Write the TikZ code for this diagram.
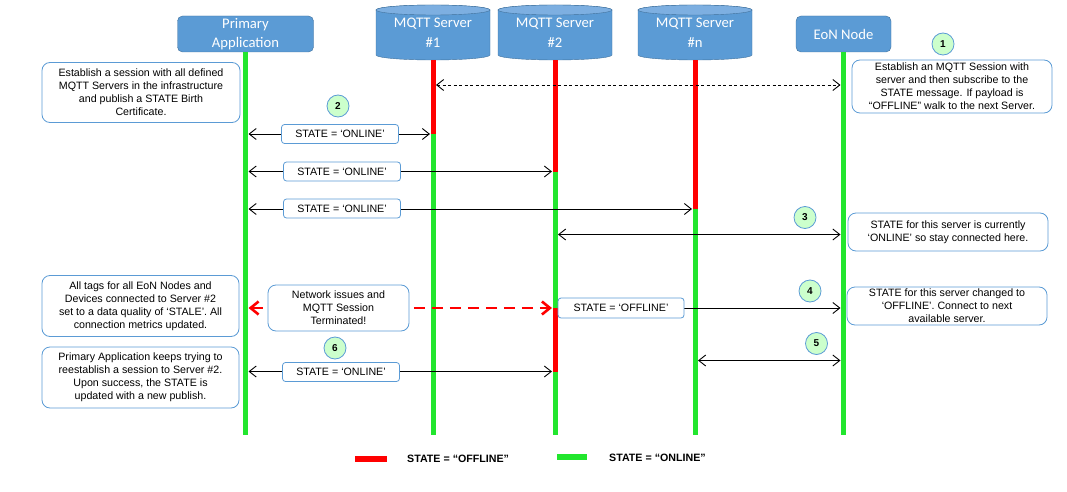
\documentclass[tikz,border=0pt]{standalone}
\usepackage{fontspec}
\setmainfont{Liberation Sans}
\newfontfamily\hdrfont{Carlito}
\usetikzlibrary{arrows.meta}
\usetikzlibrary{positioning, calc}

\definecolor{hdrblue}{RGB}{91,155,213}
\definecolor{hdrline}{RGB}{65,113,156}
\definecolor{srvtop}{RGB}{125,175,225}
\definecolor{noteblue}{RGB}{91,155,213}
\definecolor{stepgreen}{RGB}{204,255,204}
\definecolor{ongreen}{RGB}{34,230,46}
\definecolor{offred}{RGB}{255,0,0}

\begin{document}
\begin{tikzpicture}[
    x=1pt, y=-1pt,
    >={Straight Barb[length=7pt, width=11pt]},
    actor/.style={draw=hdrline, fill=hdrblue, rounded corners=5pt, text=white, align=center, inner sep=0pt, font=\hdrfont\fontsize{14.67}{19.5}\selectfont},
    srv/.style={minimum width=114pt, minimum height=55pt, text=white, align=center, inner sep=0pt, font=\hdrfont\fontsize{14.67}{19.5}\selectfont},
    srv body/.style={fill=hdrblue, draw=hdrline, thin},
    srv top/.style={fill=srvtop, draw=hdrline, thin},
    note/.style={draw=noteblue, line width=0.8pt, fill=white, rounded corners=8pt, align=center, inner sep=0pt, font=\fontsize{10.67}{13}\selectfont},
    msgtag/.style={draw=noteblue, line width=0.8pt, fill=white, rounded corners=3pt, minimum width=117pt, minimum height=19pt, inner sep=0pt, font=\fontsize{10.67}{13}\selectfont},
    stepnum/.style={circle, draw=noteblue, line width=0.8pt, fill=stepgreen, minimum size=22pt, inner sep=0pt, font=\bfseries\fontsize{10}{12}\selectfont},
    online/.style={ongreen, line width=5pt},
    offline/.style={offred, line width=5pt},
    msg/.style={black, line width=0.9pt, shorten <=3pt, shorten >=3pt},
    lost/.style={offred, line width=2.6pt, dash pattern=on 11pt off 7pt, shorten <=3pt, shorten >=3pt, <->, >={Straight Barb[length=8pt, width=13pt]}},
    lgtext/.style={anchor=west, inner sep=0pt, font=\bfseries\fontsize{10.67}{13}\selectfont}
]
    \useasboundingbox (0,0) rectangle (1067,492);

    \draw (245.5, 34) node[actor, minimum width=136pt, minimum height=36pt] (app) {Primary\\Application};
    \draw (843.5, 34) node[actor, minimum width=95pt, minimum height=36pt] (eon) {EoN Node};

    \foreach \x/\n in {433/1, 555/2, 695/n} {
        \filldraw[srv body] (\x-57, 10) -- (\x-57, 55) arc[start angle=180, end angle=360, x radius=57pt, y radius=5pt] -- (\x+57, 10) arc[start angle=0, end angle=180, x radius=57pt, y radius=5pt] -- cycle;
        \filldraw[srv top] (\x, 10) ellipse[x radius=57pt, y radius=5pt];
        \draw (\x, 32.5) node[srv] (srv\n) {MQTT Server\\\#\n};
    }

    \foreach \n/\y in {sub/85, on1/134, on2/171.5, onn/209, stay/234.5, cut/308, back/360.5, on6/371.5, bot/435}
        \coordinate (\n) at (0,\y);

    % Life lines:
    \draw[online] (app.south) -- (app|-bot);
    \draw[online] (eon.south) -- (eon|-bot);
    \draw[offline] (srv1.south) -- (srv1|-on1);
    \draw[online] (srv1|-on1) -- (srv1|-bot);
    \draw[offline] (srv2.south) -- (srv2|-on2);
    \draw[online] (srv2|-on2) -- (srv2|-cut);
    \draw[offline] (srv2|-cut) -- (srv2|-on6);
    \draw[online] (srv2|-on6) -- (srv2|-bot);
    \draw[offline] (srvn.south) -- (srvn|-onn);
    \draw[online] (srvn|-onn) -- (srvn|-bot);

    % Messages:
    \draw[msg, dash pattern=on 3pt off 2.5pt, <->] (srv1|-sub) -- (eon|-sub);
    \draw[msg, <->] (app|-on1) -- (srv1|-on1);
    \draw[msg, <->] (app|-on2) -- (srv2|-on2);
    \draw[msg, <->] (app|-onn) -- (srvn|-onn);
    \draw[msg, <->] (srv2|-stay) -- (eon|-stay);
    \draw[lost] (app|-cut) -- (srv2|-cut);
    \draw[msg, ->] (srv2|-cut) -- (eon|-cut);
    \draw[msg, <->] (srvn|-back) -- (eon|-back);
    \draw[msg, <->] (app|-on6) -- (srv2|-on6);

    \foreach \i/\x/\y in {1/340/134, 2/342/171.5, 3/342/208.5, 6/341/372} {
        \draw (\x, \y) node[msgtag] (tag\i) {STATE = ‘ONLINE’};
    }
    \draw (621, 308) node[msgtag, minimum width=126pt, minimum height=20pt] (tagoff) {STATE = ‘OFFLINE’};
    \draw (338.5, 308) node[note, minimum width=141pt, minimum height=46pt] (netnote) {Network issues and\\MQTT Session\\Terminated!};

    \foreach \i/\x/\y in {1/943/44, 2/338/106, 3/805/217.5, 4/810/291, 5/816.5/343.5, 6/335/348} {
        \draw (\x, \y) node[stepnum] (c\i) {\i};
    }

    % Notes:
    \draw (141, 92.5) node[note, minimum width=198pt, minimum height=60pt] (appnote1) {Establish a session with all defined\\MQTT Servers in the infrastructure\\and publish a STATE Birth\\Certificate.};
    \draw (140.5, 306) node[note, minimum width=197pt, minimum height=61pt] (appnote2) {All tags for all EoN Nodes and\\Devices connected to Server \#2\\set to a data quality of ‘STALE’. All\\connection metrics updated.};
    \draw (140.5, 377.5) node[note, minimum width=197pt, minimum height=61pt] (appnote3) {Primary Application keeps trying to\\reestablish a session to Server \#2.\\Upon success, the STATE is\\updated with a new publish.};
    \draw (952, 86.5) node[note, minimum width=200pt, minimum height=53pt] (eonnote1) {Establish an MQTT Session with\\server and then subscribe to the\\STATE message. If payload is\\“OFFLINE” walk to the next Server.};
    \draw (948, 232) node[note, minimum width=200pt, minimum height=38pt] (eonnote2) {STATE for this server is currently\\‘ONLINE’ so stay connected here.};
    \draw (947, 306) node[note, minimum width=200pt, minimum height=38pt] (eonnote3) {STATE for this server changed to\\‘OFFLINE’. Connect to next\\available server.};

    % Legend:
    \draw[offline, line width=6pt] (355, 459) -- (387, 459);
    \draw (407, 459) node[lgtext] (lgoff) {STATE = “OFFLINE”};
    \draw[online, line width=6pt] (557, 457) -- (587, 457);
    \draw (609, 457.5) node[lgtext] (lgon) {STATE = “ONLINE”};
\end{tikzpicture}
\end{document}
